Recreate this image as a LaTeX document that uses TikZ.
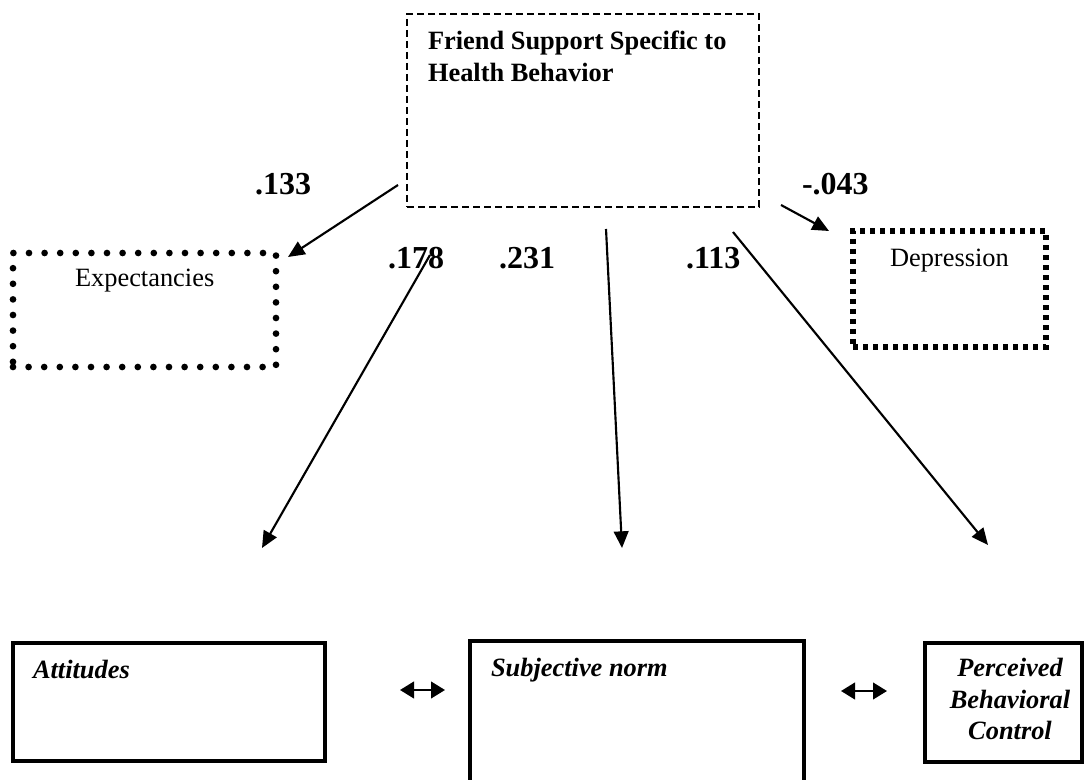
\documentclass[tikz,border=0pt]{standalone}
\usepackage{fontspec}
\setmainfont{Liberation Serif}
\usetikzlibrary{arrows.meta}
\begin{document}
\begin{tikzpicture}[x=0.75pt,y=-0.75pt,
  every node/.style={inner sep=0pt, outer sep=0pt},
  txt/.style={font=\fontsize{19.8}{24}\selectfont, anchor=base west},
  txtb/.style={txt, font=\fontsize{19.8}{24}\selectfont\bfseries},
  txtbi/.style={txt, font=\fontsize{19.8}{24}\selectfont\bfseries\itshape},
  coef/.style={font=\fontsize{24}{28}\selectfont\bfseries, anchor=base west},
  dashbox/.style={draw, line width=1.1pt, dash pattern=on 5.25pt off 3pt},
  roundbox/.style={draw, line width=5pt, line cap=round, dash pattern=on 0pt off 11.7pt},
  squarebox/.style={draw, line width=4pt, dash pattern=on 4pt off 3.5pt},
  solidbox/.style={draw, line width=2.6pt},
  path/.style={line width=1.6pt, -{Triangle[length=12.5pt, width=11pt]}},
  both/.style={line width=1.6pt, {Triangle[length=10.5pt, width=12.5pt]}-{Triangle[length=10.5pt, width=12.5pt]}}
]
\useasboundingbox (0,0) rectangle (1084,780);
\clip (0,0) rectangle (1084,780);

% boxes
\node[dashbox, minimum width=264pt, minimum height=144.75pt] (friend) at (583,110.5) {};
\node[roundbox, minimum width=197.25pt, minimum height=85.5pt] (expect) at (144.5,310) {};
\node[squarebox, minimum width=144.75pt, minimum height=87pt] (depress) at (949.5,289) {};
\node[solidbox, minimum width=234pt, minimum height=88.5pt] (attit) at (169,702) {};
\node[solidbox, minimum width=250.5pt, minimum height=134.25pt] (subj) at (637,730.5) {};
\node[solidbox, minimum width=117.75pt, minimum height=89.25pt] (pbc) at (1003.5,702.5) {};

% box texts
\node[txtb] (friend1) at (428,50) {Friend Support Specific to};
\node[txtb] (friend2) at (428,82) {Health Behavior};
\node[txt] (expecttxt) at (75,287) {Expectancies};
\node[txt] (depresstxt) at (890,267) {Depression};
\node[txtbi] (attittxt) at (33,678) {Attitudes};
\node[txtbi] (subjtxt) at (491,676) {Subjective norm};
\node[txtbi, anchor=base] (pbc1) at (1010,676) {Perceived};
\node[txtbi, anchor=base] (pbc2) at (1010,708) {Behavioral};
\node[txtbi, anchor=base] (pbc3) at (1010,739) {Control};

% path coefficients
\node[coef] (c133) at (255,195) {.133};
\node[coef] (c043) at (802,195) {-.043};
\node[coef] (c178) at (388,269) {.178};
\node[coef] (c231) at (499,269) {.231};
\node[coef] (c113) at (686,269) {.113};

% connector end points
\coordinate (s133) at (398,185);
\coordinate (e133) at (288,257);
\coordinate (s043) at (781,205);
\coordinate (e043) at (829,231);
\coordinate (s178) at (430,255);
\coordinate (e178) at (262,548);
\coordinate (s231) at (606,229);
\coordinate (e231) at (622,548);
\coordinate (s113) at (733,232);
\coordinate (e113) at (988,545);
\coordinate (d1a) at (400,690);
\coordinate (d1b) at (445,690);
\coordinate (d2a) at (841,691);
\coordinate (d2b) at (887,691);

% connectors
\draw[path] (s133) -- (e133);
\draw[path] (s043) -- (e043);
\draw[path] (s178) -- (e178);
\draw[path] (s231) -- (e231);
\draw[path] (s113) -- (e113);
\draw[both] (d1a) -- (d1b);
\draw[both] (d2a) -- (d2b);
\end{tikzpicture}
\end{document}
